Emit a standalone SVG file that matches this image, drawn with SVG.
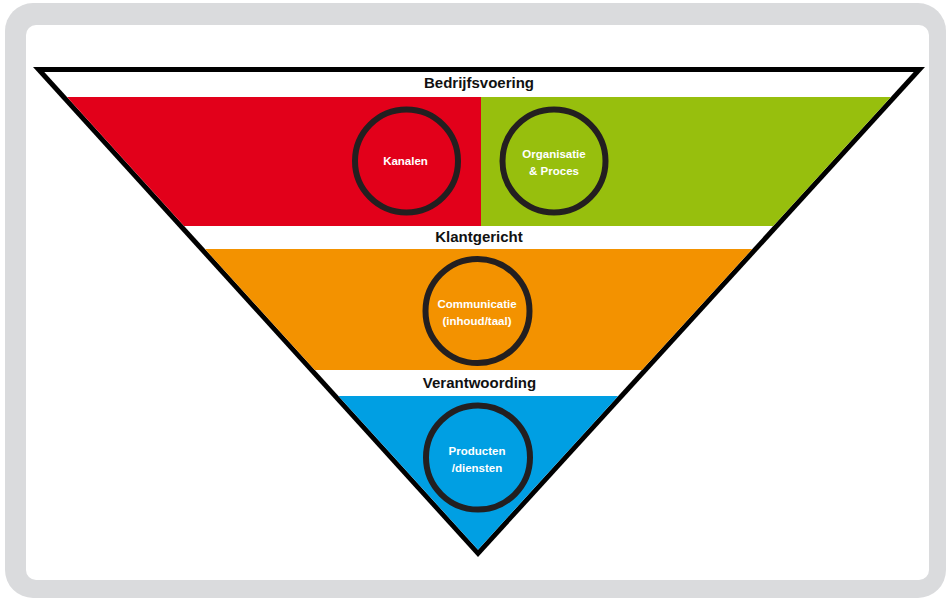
<svg xmlns="http://www.w3.org/2000/svg" width="949" height="599" viewBox="0 0 949 599">
  <defs>
    <style>
      .label { font-family: "Liberation Sans", Arial, sans-serif; font-weight: bold; font-size: 15px; fill: #111111; text-anchor: middle; }
      .inner { font-family: "Liberation Sans", Arial, sans-serif; font-weight: bold; font-size: 11.5px; fill: #FFFFFF; text-anchor: middle; }
      .ring { fill: none; stroke: #231F20; stroke-width: 6; }
    </style>
    <!-- inside of the funnel outline -->
    <clipPath id="funnelInside">
      <polygon points="44.3,72 913.7,72 478,549.7"/>
    </clipPath>
  </defs>

  <!-- rounded frame -->
  <rect x="5" y="3" width="941" height="595" rx="28" fill="#DADBDD"/>
  <rect x="26" y="25" width="903" height="555" rx="10" fill="#FFFFFF"/>

  <!-- funnel outline -->
  <polygon points="33,67 925,67 478,557" fill="#000000"/>
  <polygon points="44.3,72 913.7,72 478,549.7" fill="#FFFFFF"/>

  <!-- coloured bands -->
  <g clip-path="url(#funnelInside)">
    <rect x="0" y="97" width="481" height="129" fill="#E2001A"/>
    <rect x="481" y="97" width="468" height="129" fill="#97BF0D"/>
    <rect x="0" y="249" width="949" height="121" fill="#F39200"/>
    <rect x="0" y="396" width="949" height="204" fill="#009FE3"/>
  </g>

  <!-- band headings -->
  <g id="bedrijfsvoering"><text class="label" x="479" y="88">Bedrijfsvoering</text></g>
  <g id="klantgericht"><text class="label" x="479" y="242">Klantgericht</text></g>
  <g id="verantwoording"><text class="label" x="479.5" y="388">Verantwoording</text></g>

  <!-- circles -->
  <g id="kanalen">
    <circle class="ring" cx="406.5" cy="161" r="51.5"/>
    <text class="inner" x="405.5" y="165">Kanalen</text>
  </g>
  <g id="organisatie">
    <circle class="ring" cx="554" cy="161" r="51.5"/>
    <text class="inner" x="554" y="158">Organisatie</text>
    <text class="inner" x="554" y="175">&amp; Proces</text>
  </g>
  <g id="communicatie">
    <circle class="ring" cx="477.5" cy="311" r="52"/>
    <text class="inner" x="477" y="308">Communicatie</text>
    <text class="inner" x="477" y="325">(inhoud/taal)</text>
  </g>
  <g id="producten">
    <circle class="ring" cx="478" cy="457.5" r="52"/>
    <text class="inner" x="477" y="455">Producten</text>
    <text class="inner" x="477" y="472">/diensten</text>
  </g>

  <g id="connectors"></g>
</svg>
